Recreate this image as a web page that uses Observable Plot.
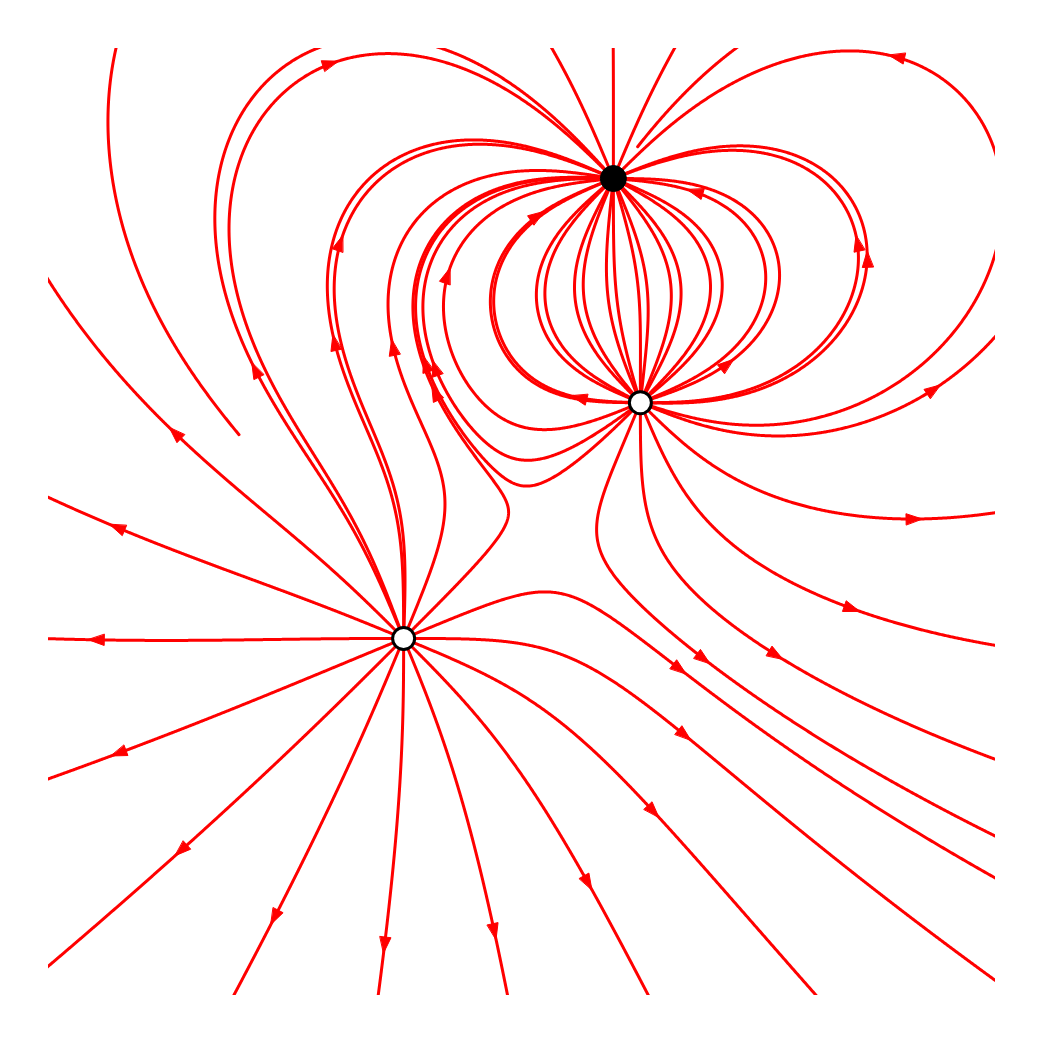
<!DOCTYPE html>
<html><head><meta charset="utf-8">
<script src="https://cdn.jsdelivr.net/npm/d3@7"></script>
<script src="https://cdn.jsdelivr.net/npm/@observablehq/plot@0.6"></script>
<style>body{margin:0;background:#fff}</style>
</head><body><div id="chart"></div>
<script>
// Point charges (data units; visible window is [-1,1] x [-1,1])
const chargeX = [0.25, -0.25, 0.193];
const chargeY = [0.252, -0.246, 0.7254];
const chargeQ = [1, 1, -1];
// Field lines start on each charge at these angles (degrees)
const seedAngles = [0, 22.5, 45, 67.5, 90, 112.5, 135, 157.5, 180, 202.5, 225, 247.5, 270, 292.5, 315, 337.5];
// Length of each traced line and arc position of its arrow (data units)
const lineLength = 2.46;
const arrowAt = 0.665;
const viewDomain = [-1, 1];

function field(x, y) {
  let ex = 0, ey = 0;
  for (let i = 0; i < chargeQ.length; i++) {
    const dx = x - chargeX[i], dy = y - chargeY[i];
    const r2 = dx * dx + dy * dy, r3 = r2 * Math.sqrt(r2);
    ex += chargeQ[i] * dx / r3; ey += chargeQ[i] * dy / r3;
  }
  return [ex, ey];
}
function dir(x, y, s) {
  const [ex, ey] = field(x, y);
  const m = Math.hypot(ex, ey) || 1;
  return [s * ex / m, s * ey / m];
}
function trace(ci, angleDeg) {
  const s = chargeQ[ci] > 0 ? 1 : -1;
  const a = angleDeg * Math.PI / 180;
  const r0 = 0.004, h = 0.002;
  let x = chargeX[ci] + r0 * Math.cos(a), y = chargeY[ci] + r0 * Math.sin(a);
  const pts = [[chargeX[ci], chargeY[ci], 0], [x, y, r0]];
  let len = r0, ended = false;
  while (len < lineLength) {
    const k1 = dir(x, y, s);
    const k2 = dir(x + h / 2 * k1[0], y + h / 2 * k1[1], s);
    const k3 = dir(x + h / 2 * k2[0], y + h / 2 * k2[1], s);
    const k4 = dir(x + h * k3[0], y + h * k3[1], s);
    x += h / 6 * (k1[0] + 2 * k2[0] + 2 * k3[0] + k4[0]);
    y += h / 6 * (k1[1] + 2 * k2[1] + 2 * k3[1] + k4[1]);
    len += h;
    pts.push([x, y, len]);
    for (let j = 0; j < chargeQ.length; j++) {
      if (j === ci || Math.sign(chargeQ[j]) === Math.sign(chargeQ[ci])) continue;
      if (Math.hypot(x - chargeX[j], y - chargeY[j]) < 0.006) {
        pts.push([chargeX[j], chargeY[j], len]); ended = true; break;
      }
    }
    if (ended || Math.abs(x) > 4 || Math.abs(y) > 4) break;
  }
  return {pts, len, s};
}

const linePts = [];
const arrowPts = [];
const pxPerUnit = 947 / 2;
const headLen = 16 / pxPerUnit, headHalf = 5.5 / pxPerUnit;
let id = 0;
chargeQ.forEach((q, ci) => {
  seedAngles.forEach(ang => {
    const {pts, len, s} = trace(ci, ang);
    pts.forEach(p => linePts.push({id, x: p[0], y: p[1]}));
    if (len > arrowAt + 0.01) {
      const k = pts.findIndex(p => p[2] >= arrowAt);
      if (k > 1) {
        const [px, py] = pts[k];
        const [qx, qy] = pts[k - 1];
        let dx = px - qx, dy = py - qy;
        const m = Math.hypot(dx, dy);
        dx = s * dx / m; dy = s * dy / m; // field direction
        const bx = px - dx * headLen, by = py - dy * headLen;
        const nx = -dy, ny = dx;
        arrowPts.push({id, x: px, y: py});
        arrowPts.push({id, x: bx + nx * headHalf, y: by + ny * headHalf});
        arrowPts.push({id, x: bx - nx * headHalf, y: by - ny * headHalf});
      }
    }
    id++;
  });
});

const charges = chargeQ.map((q, i) => ({x: chargeX[i], y: chargeY[i], q}));

const chart = Plot.plot({
  width: 1044, height: 1044,
  marginLeft: 48, marginRight: 49, marginTop: 48, marginBottom: 49,
  style: {background: "white"},
  x: {domain: viewDomain, axis: null},
  y: {domain: viewDomain, axis: null},
  marks: [
    Plot.line(linePts, {x: "x", y: "y", z: "id", stroke: "red", strokeWidth: 3, clip: true, curve: "linear"}),
    Plot.line(arrowPts, {x: "x", y: "y", z: "id", fill: "red", stroke: "red", strokeWidth: 1, curve: "linear-closed", clip: true}),
    Plot.dot(charges.filter(d => d.q > 0), {x: "x", y: "y", r: 11, fill: "white", stroke: "black", strokeWidth: 3}),
    Plot.dot(charges.filter(d => d.q < 0), {x: "x", y: "y", r: 13, fill: "black", stroke: "black", strokeWidth: 1})
  ]
});
document.getElementById("chart").appendChild(chart);
</script>
</body></html>
